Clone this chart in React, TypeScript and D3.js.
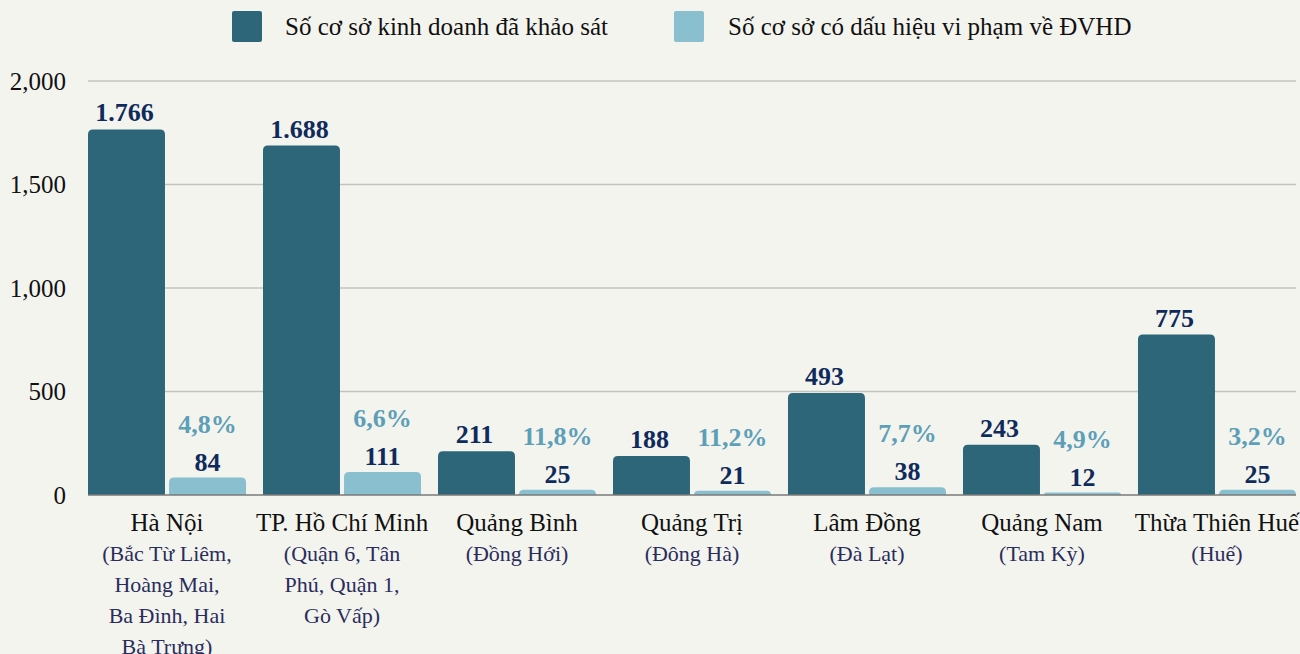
import React, { useEffect, useRef } from 'react';
import * as d3 from 'd3';

// Data
const categories = ['Hà Nội', 'TP. Hồ Chí Minh', 'Quảng Bình', 'Quảng Trị', 'Lâm Đồng', 'Quảng Nam', 'Thừa Thiên Huế'];
const subLabels = [
  ['(Bắc Từ Liêm,', 'Hoàng Mai,', 'Ba Đình, Hai', 'Bà Trưng)'],
  ['(Quận 6, Tân', 'Phú, Quận 1,', 'Gò Vấp)'],
  ['(Đồng Hới)'],
  ['(Đông Hà)'],
  ['(Đà Lạt)'],
  ['(Tam Kỳ)'],
  ['(Huế)'],
];
const surveyed = [1766, 1688, 211, 188, 493, 243, 775];
const violations = [84, 111, 25, 21, 38, 12, 25];
const violationShare = ['4,8%', '6,6%', '11,8%', '11,2%', '7,7%', '4,9%', '3,2%'];
const seriesNames = ['Số cơ sở kinh doanh đã khảo sát', 'Số cơ sở có dấu hiệu vi phạm về ĐVHD'];
const yTicks = [0, 500, 1000, 1500, 2000];

const DARK = '#2d6579';
const LIGHT = '#89bfcf';
const NAVY = '#0f2b5b';
const PCT = '#5e9fb8';
const FONT = '"Liberation Serif", "Times New Roman", serif';

const viLocale = d3.formatLocale({ decimal: ',', thousands: '.', grouping: [3], currency: ['', ''] });
const fmtValue = viLocale.format(',d');

// rect with rounded top corners only
const topRounded = (x: number, y: number, w: number, h: number, r: number) => {
  const rr = Math.min(r, h, w / 2);
  return `M${x},${y + h}V${y + rr}Q${x},${y} ${x + rr},${y}H${x + w - rr}Q${x + w},${y} ${x + w},${y + rr}V${y + h}Z`;
};

const App: React.FC = () => {
  const svgRef = useRef<SVGSVGElement>(null);

  useEffect(() => {
    if (!svgRef.current) return;
    const width = 1300;
    const height = 654;

    const root = d3.select(svgRef.current);
    root.selectAll('*').remove();
    root.attr('width', width).attr('height', height).style('font-family', FONT);

    root.append('rect').attr('width', width).attr('height', height).attr('fill', '#f4f4ef');

    const x = d3.scaleBand<string>().domain(categories).range([88, 1296]).paddingInner(0.097).paddingOuter(0);
    const inner = d3.scaleBand<number>().domain([0, 1]).range([0, x.bandwidth()]).paddingInner(0.05);
    const y = d3.scaleLinear().domain([0, 2000]).range([495, 81]);

    // Gridlines
    root.append('g')
      .selectAll('line')
      .data(yTicks.filter((t) => t > 0))
      .enter()
      .append('line')
      .attr('x1', 88)
      .attr('x2', 1296)
      .attr('y1', (d) => y(d))
      .attr('y2', (d) => y(d))
      .attr('stroke', '#c3c3bf')
      .attr('stroke-width', 1.5);

    // Y tick labels
    root.append('g')
      .selectAll('text')
      .data(yTicks)
      .enter()
      .append('text')
      .attr('x', 66)
      .attr('y', (d) => y(d))
      .attr('dy', '0.34em')
      .attr('text-anchor', 'end')
      .attr('font-size', 25)
      .attr('fill', '#111')
      .text((d) => d3.format(',')(d));

    const groups = root.append('g')
      .selectAll('g')
      .data(categories)
      .enter()
      .append('g')
      .attr('transform', (d) => `translate(${x(d)},0)`);

    // Surveyed bars
    groups.append('path')
      .attr('d', (_, i) => topRounded(inner(0)!, y(surveyed[i]), inner.bandwidth(), y(0) - y(surveyed[i]), 5))
      .attr('fill', DARK);

    // Violation bars
    groups.append('path')
      .attr('d', (_, i) => topRounded(inner(1)!, y(violations[i]), inner.bandwidth(), y(0) - y(violations[i]), 5))
      .attr('fill', LIGHT);

    // Baseline
    root.append('line')
      .attr('x1', 88)
      .attr('x2', 1296)
      .attr('y1', y(0))
      .attr('y2', y(0))
      .attr('stroke', '#7a7a78')
      .attr('stroke-width', 1.5);

    // Value labels
    groups.append('text')
      .attr('x', inner(0)! + inner.bandwidth() / 2 - 2)
      .attr('y', (_, i) => y(surveyed[i]) - 8)
      .attr('text-anchor', 'middle')
      .attr('font-size', 26)
      .attr('font-weight', 'bold')
      .attr('fill', NAVY)
      .text((_, i) => fmtValue(surveyed[i]));

    groups.append('text')
      .attr('x', inner(1)! + inner.bandwidth() / 2)
      .attr('y', (_, i) => y(violations[i]) - 7)
      .attr('text-anchor', 'middle')
      .attr('font-size', 26)
      .attr('font-weight', 'bold')
      .attr('fill', NAVY)
      .text((_, i) => fmtValue(violations[i]));

    groups.append('text')
      .attr('x', inner(1)! + inner.bandwidth() / 2)
      .attr('y', (_, i) => y(violations[i]) - 45)
      .attr('text-anchor', 'middle')
      .attr('font-size', 26)
      .attr('font-weight', 'bold')
      .attr('fill', PCT)
      .text((_, i) => violationShare[i]);

    // Category labels
    groups.append('text')
      .attr('x', x.bandwidth() / 2)
      .attr('y', 531)
      .attr('text-anchor', 'middle')
      .attr('font-size', 25)
      .attr('fill', '#111')
      .text((d) => d);

    groups.each(function (_, i) {
      const t = d3.select(this)
        .append('text')
        .attr('text-anchor', 'middle')
        .attr('font-size', 22)
        .attr('fill', '#2a2d5c');
      subLabels[i].forEach((line, j) => {
        t.append('tspan')
          .attr('x', x.bandwidth() / 2)
          .attr('y', 561 + j * 31)
          .text(line);
      });
    });

    // Legend
    const legendX = [232, 674];
    const legend = root.append('g')
      .selectAll('g')
      .data(seriesNames)
      .enter()
      .append('g')
      .attr('transform', (_, i) => `translate(${legendX[i]},11)`);
    legend.append('rect')
      .attr('width', 30)
      .attr('height', 31)
      .attr('rx', 2)
      .attr('fill', (_, i) => (i === 0 ? DARK : LIGHT));
    legend.append('text')
      .attr('x', (_, i) => (i === 0 ? 53 : 54))
      .attr('y', 24)
      .attr('font-size', 25)
      .attr('fill', '#111')
      .text((d) => d);
  }, []);

  return (
    <svg ref={svgRef} style={{ position: 'absolute', left: 0, top: 0, display: 'block' }}></svg>
  );
};

export default App;
